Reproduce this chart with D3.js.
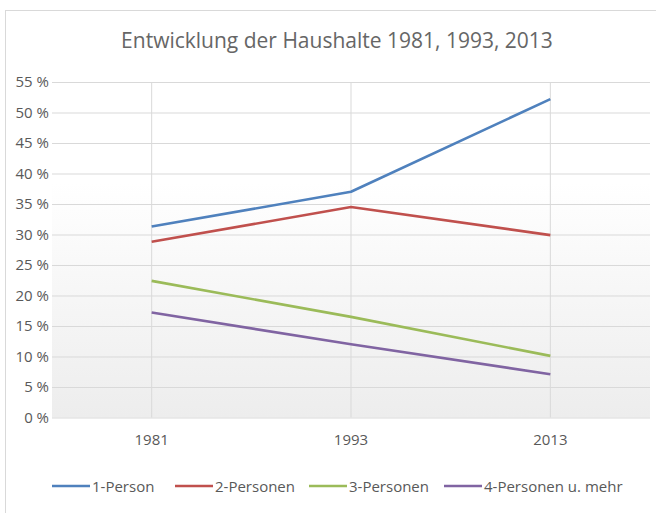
<!DOCTYPE html>
<html>
<head>
<meta charset="utf-8">
<script src="https://cdn.jsdelivr.net/npm/d3@7"></script>
<style>
  html, body { margin: 0; padding: 0; background: #fff; }
  svg { display: block; font-family: "Open Sans", sans-serif; }
</style>
</head>
<body>
<div id="chart"></div>
<script>
(function () {
  "use strict";

  // data
  const years = ['1981', '1993', '2013'];
  const seriesNames = ['1-Person', '2-Personen', '3-Personen', '4-Personen u. mehr'];
  const person1 = [31.3, 37.0, 52.2];
  const person2 = [28.8, 34.5, 29.9];
  const person3 = [22.4, 16.5, 10.1];
  const person4 = [17.2, 12.0, 7.1];
  const yTicks = [0, 5, 10, 15, 20, 25, 30, 35, 40, 45, 50, 55];

  const colors = ['#4F81BD', '#C0504D', '#9BBB59', '#8064A2'];
  const series = [person1, person2, person3, person4].map((v, i) => ({
    name: seriesNames[i], values: v, color: colors[i]
  }));

  const W = 656, H = 513;
  const svg = d3.select('#chart').append('svg').attr('width', W).attr('height', H);

  // chart frame (right/bottom edges run off the picture)
  svg.append('rect')
    .attr('x', 5.5).attr('y', 10.5).attr('width', W + 20).attr('height', H + 20)
    .attr('fill', '#fff').attr('stroke', '#d9d9d9').attr('stroke-width', 1);

  const plot = { left: 52, right: 650, top: 82, bottom: 417.5 };

  const x = d3.scaleBand().domain(years).range([plot.left, plot.right]);
  const y = d3.scaleLinear().domain([0, 55]).range([plot.bottom, plot.top]);

  // plot background gradient
  const grad = svg.append('defs').append('linearGradient')
    .attr('id', 'bg').attr('x1', 0).attr('y1', 0).attr('x2', 0).attr('y2', 1);
  grad.append('stop').attr('offset', '0%').attr('stop-color', '#ffffff');
  grad.append('stop').attr('offset', '30%').attr('stop-color', '#ffffff');
  grad.append('stop').attr('offset', '100%').attr('stop-color', '#ededed');
  svg.append('rect')
    .attr('x', plot.left).attr('y', plot.top)
    .attr('width', plot.right - plot.left).attr('height', plot.bottom - plot.top)
    .attr('fill', 'url(#bg)');

  // title
  svg.append('text')
    .attr('x', 337).attr('y', 48)
    .attr('text-anchor', 'middle')
    .attr('fill', '#666666')
    .style('font-size', '21px')
    .text('Entwicklung der Haushalte 1981, 1993, 2013');

  // horizontal gridlines + y labels
  const yAxis = svg.append('g')
    .attr('transform', `translate(${plot.left},0)`)
    .call(d3.axisLeft(y).tickValues(yTicks).tickSize(-(plot.right - plot.left)).tickPadding(3)
      .tickFormat(d => d + ' %'));
  yAxis.select('.domain').remove();
  yAxis.selectAll('line').attr('stroke', '#d9d9d9');
  yAxis.selectAll('text').attr('fill', '#595959').style('font-size', '15px')
    .style('font-family', '"Open Sans", sans-serif');

  // vertical gridlines at the categories
  svg.append('g').selectAll('line').data(years).enter().append('line')
    .attr('x1', d => x(d) + x.bandwidth() / 2).attr('x2', d => x(d) + x.bandwidth() / 2)
    .attr('y1', plot.top).attr('y2', plot.bottom)
    .attr('stroke', '#d9d9d9');

  // x labels
  const xAxis = svg.append('g')
    .attr('transform', `translate(0,${plot.bottom})`)
    .call(d3.axisBottom(x).tickSize(0).tickPadding(17));
  xAxis.select('.domain').remove();
  xAxis.selectAll('text').attr('fill', '#595959').style('font-size', '15px')
    .style('font-family', '"Open Sans", sans-serif');

  // lines
  const line = d3.line()
    .x((d, i) => x(years[i]) + x.bandwidth() / 2)
    .y(d => y(d));

  svg.append('g').selectAll('path').data(series).enter().append('path')
    .attr('d', d => line(d.values))
    .attr('fill', 'none')
    .attr('stroke', d => d.color)
    .attr('stroke-width', 2.6)
    .attr('stroke-linejoin', 'round');

  // legend
  const legendX = [52, 175, 309, 444];
  const lg = svg.append('g').attr('transform', 'translate(0,486)');
  const item = lg.selectAll('g').data(series).enter().append('g')
    .attr('transform', (d, i) => `translate(${legendX[i]},0)`);
  item.append('line')
    .attr('x1', 0).attr('x2', 38).attr('y1', 0).attr('y2', 0)
    .attr('stroke', d => d.color).attr('stroke-width', 2.6);
  item.append('text')
    .attr('x', 40).attr('y', 5.5)
    .attr('fill', '#595959')
    .style('font-size', '15px')
    .text(d => d.name);
})();
</script>
</body>
</html>
